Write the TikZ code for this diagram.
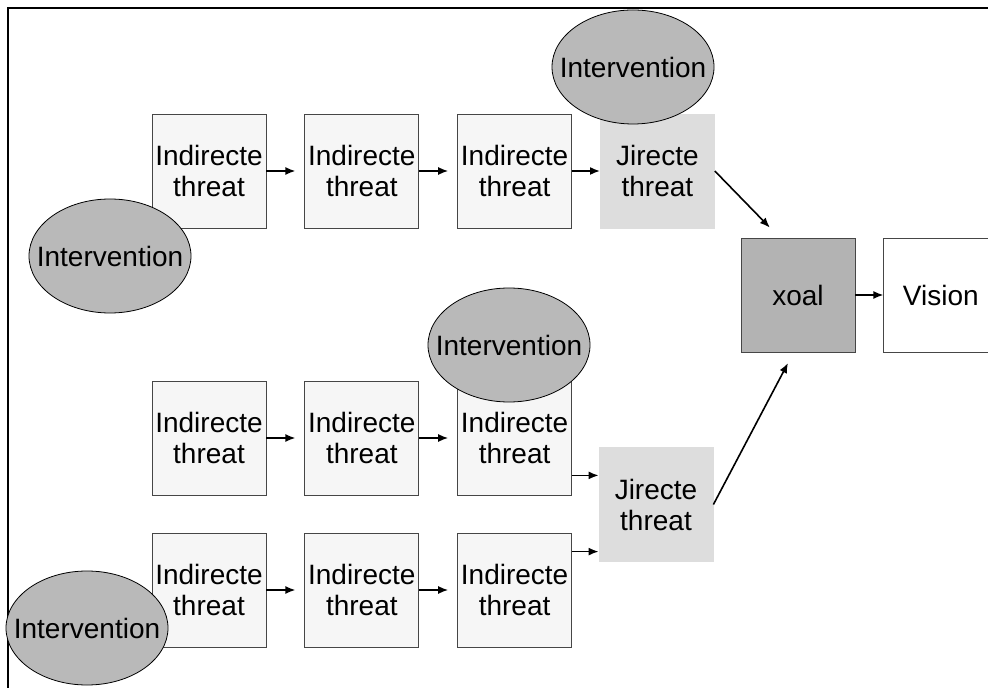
\documentclass[tikz,border=0pt]{standalone}
\usepackage{fontspec}
\setmainfont{Liberation Sans}
\usetikzlibrary{arrows.meta,positioning,shapes.geometric}
\definecolor{boxfill}{RGB}{246,246,246}
\definecolor{boxline}{RGB}{70,70,70}
\definecolor{directfill}{RGB}{221,221,221}
\definecolor{goalfill}{RGB}{179,179,179}
\definecolor{actfill}{RGB}{185,185,185}

\begin{document}
\begin{tikzpicture}[x=0.5pt, y=-0.5pt, font=\fontsize{14}{15.5}\selectfont, node distance=19pt,
      box/.style={rectangle, draw=boxline, fill=boxfill, minimum width=57pt,
                  minimum height=57pt, inner sep=0pt, align=center},
      direct/.style={box, draw=directfill, fill=directfill},
      act/.style={ellipse, draw=black, fill=actfill, minimum width=81pt,
                  minimum height=57pt, inner xsep=-8pt, inner ysep=0pt},
      arr/.style={-{Latex[length=5pt,width=4pt]}, thick}]
    \useasboundingbox (0,0) rectangle (988,688);
    \draw[line width=1pt] (8,688) -- (8,8) -- (988,8);
    % three chains of threats
    \node[box] (t1) at (209,171) {Indirecte\\threat};
    \node[box, right=of t1] (t2) {Indirecte\\threat};
    \node[box, right=of t2] (t3) {Indirecte\\threat};
    \node[direct, right=14pt of t3] (d1) {Jirecte\\threat};
    \node[box] (m1) at (209,438) {Indirecte\\threat};
    \node[box, right=of m1] (m2) {Indirecte\\threat};
    \node[box, right=of m2] (m3) {Indirecte\\threat};
    \node[box] (b1) at (209,590) {Indirecte\\threat};
    \node[box, right=of b1] (b2) {Indirecte\\threat};
    \node[box, right=of b2] (b3) {Indirecte\\threat};
    \node[direct] (d2) at (656,504.5) {Jirecte\\threat};
    \node[box, fill=goalfill] (goal) at (798,295) {xoal};
    \node[box, fill=white, right=14pt of goal] (vision) {Vision};
    % links
    \draw[arr, shorten >=4.5pt] (t1) -- (t2);
    \draw[arr, shorten >=4.5pt] (t2) -- (t3);
    \draw[arr] (t3) -- (d1);
    \draw[arr, shorten >=4.5pt] (m1) -- (m2);
    \draw[arr, shorten >=4.5pt] (m2) -- (m3);
    \draw[arr, shorten >=4.5pt] (b1) -- (b2);
    \draw[arr, shorten >=4.5pt] (b2) -- (b3);
    \coordinate (p2) at ([yshift=10pt]m3.south east);
    \coordinate (p3) at ([yshift=-9.5pt]b3.north east);
    \draw[arr] (p2) -- (p2 -| d2.west);
    \draw[arr] (p3) -- (p3 -| d2.west);
    \draw[arr, shorten >=7pt] (d1.east) -- ([xshift=19.5pt]goal.north west);
    \draw[arr, shorten >=6pt] (d2.east) -- ([xshift=26.5pt]goal.south west);
    \draw[arr] (goal) -- (vision);
    % interventions
    \node[act] (i1) at (633,67) {Intervention};
    \node[act] (i2) at (110,256) {Intervention};
    \node[act] (i3) at (509,345) {Intervention};
    \node[act] (i4) at (87,628) {Intervention};
  \end{tikzpicture}
\end{document}
